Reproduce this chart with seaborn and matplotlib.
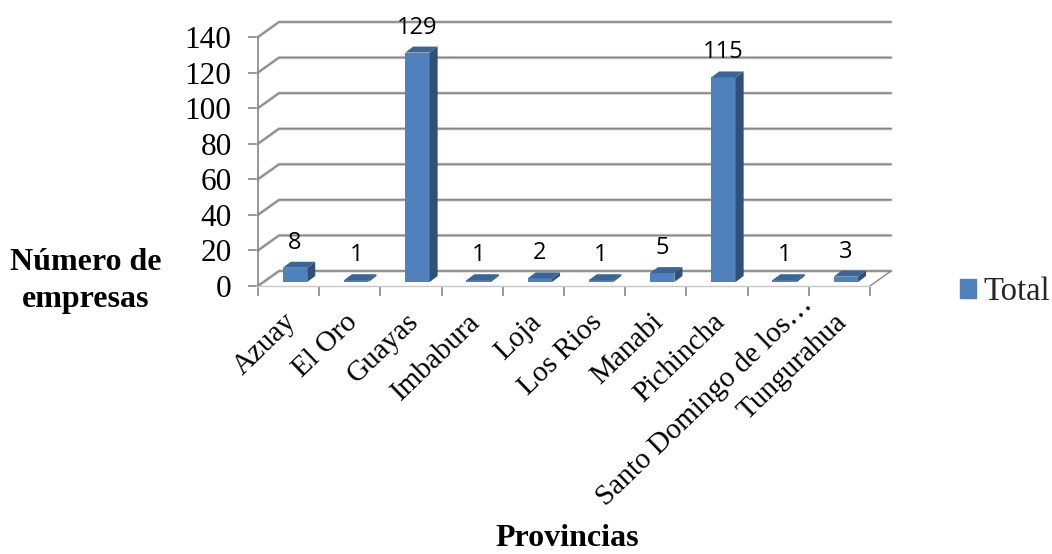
import matplotlib
matplotlib.use("Agg")
import matplotlib.pyplot as plt
import matplotlib.patheffects as pe
from matplotlib.patches import Patch
from matplotlib.transforms import Affine2D
import pandas as pd
import seaborn as sns

provincias = ["Azuay", "El Oro", "Guayas", "Imbabura", "Loja", "Los Rios", "Manabi",
              "Pichincha", "Santo Domingo de los…", "Tungurahua"]
empresas = [8, 1, 129, 1, 2, 1, 5, 115, 1, 3]
y_ticks = [0, 20, 40, 60, 80, 100, 120, 140]

FRONT = "#4F81BD"
TOP = "#3B6595"
SIDE = "#2F5079"
GRID = "#868686"
SERIF = "Liberation Serif"

sns.set_theme(style="white")
plt.rcParams["font.family"] = [SERIF, "DejaVu Sans"]

W, H = 1052, 554
fig = plt.figure(figsize=(W / 100, H / 100), dpi=100)
ax = fig.add_axes([258 / W, (H - 286) / H, (870 - 258) / W, (286 - 37) / H])

df = pd.DataFrame({"provincia": provincias, "empresas": empresas})
sns.barplot(data=df, x="provincia", y="empresas", color=FRONT, saturation=1,
            width=0.4, ax=ax, zorder=4, linewidth=0)
ax.set_xlim(-0.5, 9.5)
ax.set_ylim(0, 140)

# pixel sizes of one data unit on the front plane
ux = (870 - 258) / 10
uy = (286 - 37) / 140

# back wall and floor of the 3D box
wall_dx, wall_dy = 21 / ux, 15 / uy
soft = [pe.withStroke(linewidth=2.4, foreground="#D4D4D4")]
for v in y_ticks:
    ax.plot([-0.5, -0.5 + wall_dx, 9.5 + wall_dx], [v, v + wall_dy, v + wall_dy],
            color=GRID, lw=1.2, clip_on=False, zorder=1, path_effects=soft)
ax.plot([9.5, 9.5 + wall_dx], [0, wall_dy], color=GRID, lw=1.0, clip_on=False, zorder=1)

# bars stand slightly inside the floor; give each one a top and a side face
shift_x, shift_y = 6.4, 4.0
depth_x, depth_y = 8 / ux, 6 / uy
move = Affine2D().translate(shift_x, shift_y)
for bar, value in zip(ax.patches, empresas):
    bar.set_transform(ax.transData + move)
    bar.set_clip_on(False)
    x0 = bar.get_x() + shift_x / ux
    x1 = x0 + bar.get_width()
    y0 = shift_y / uy
    y1 = value + y0
    ax.fill([x0, x0 + depth_x, x1 + depth_x, x1], [y1, y1 + depth_y, y1 + depth_y, y1],
            color=TOP, lw=0, clip_on=False, zorder=4)
    ax.fill([x1, x1 + depth_x, x1 + depth_x, x1], [y0, y0 + depth_y, y1 + depth_y, y1],
            color=SIDE, lw=0, clip_on=False, zorder=4)
    ax.annotate(str(value), xy=((x0 + x1) / 2, y1), xytext=(0, 25), textcoords="offset pixels",
                ha="center", va="center", fontsize=17, family="Open Sans",
                color="black", zorder=6, annotation_clip=False)

for name, spine in ax.spines.items():
    spine.set_visible(name in ("left", "bottom"))
ax.spines["left"].set_color(GRID)
ax.spines["left"].set_linewidth(1.2)
ax.spines["bottom"].set_color("#C8C8C8")
ax.spines["bottom"].set_linewidth(1.0)

ax.set_yticks(y_ticks)
ax.tick_params(axis="y", left=True, length=7, width=1.2, color=GRID, pad=12,
               labelsize=22.5, labelcolor="black")
ax.set_xticks(range(len(provincias)))
ax.set_xticklabels(provincias, rotation=44, ha="right", va="top", rotation_mode="anchor",
                   fontsize=21, color="black")
ax.tick_params(axis="x", bottom=False, pad=9)
ax.set_xticks([i - 0.5 for i in range(len(provincias) + 1)], minor=True)
ax.tick_params(axis="x", which="minor", bottom=True, length=7, width=1.2, color=GRID)
ax.set_xlabel("")
ax.set_ylabel("")

# the truncated long label sits further along its diagonal than the others
for label in ax.get_xticklabels():
    dx, dy = (22, 15) if label.get_text().startswith("Santo") else (-5, -2)
    label.set_transform(label.get_transform() + Affine2D().translate(dx, dy))

fig.text(86 / W, 1 - 281 / H, "Número de\nempresas", ha="center", va="center", fontsize=23,
         fontweight="bold", color="black", linespacing=1.35)
fig.text(567 / W, 1 - 545.5 / H, "Provincias", ha="center", va="baseline", fontsize=23,
         fontweight="bold", color="black")

fig.legend(handles=[Patch(color=FRONT, label="Total")], loc="center left",
           bbox_to_anchor=(960 / W, 1 - 292 / H), frameon=False, fontsize=23.5,
           handlelength=0.49, handleheight=0.49, handletextpad=0.22, borderpad=0, borderaxespad=0)

fig.savefig("out.png", dpi=100, facecolor="white")
